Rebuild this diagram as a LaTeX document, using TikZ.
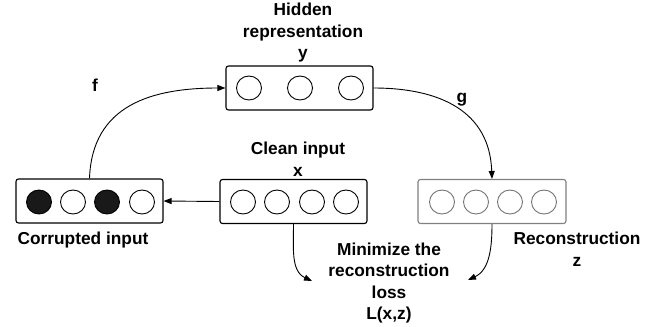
\documentclass[tikz,border=0pt]{standalone}
\usepackage{fontspec}
\setmainfont{Liberation Sans}
\usetikzlibrary{arrows.meta,shapes.geometric}
\begin{document}
\begin{tikzpicture}[x=1pt,y=-1pt,
  layerbox/.style={draw, line width=1.1pt, rounded corners=2.5pt, minimum width=147pt, minimum height=44pt, inner sep=0pt},
  unit/.style={draw, ellipse, line width=0.9pt, minimum width=25pt, minimum height=24pt, inner sep=0pt},
  lbl/.style={font=\fontsize{17.3}{21.5}\selectfont\bfseries, align=center, inner sep=0pt},
  conn/.style={line width=0.9pt, -{Triangle[length=8pt,width=6pt]}}
]
\useasboundingbox (0,0) rectangle (665,327);
% boxes
\node[layerbox] (cor) at (89.5,201) {};
\node[layerbox] (hid) at (299.5,88) {};
\node[layerbox] (cln) at (293.5,201.5) {};
\node[layerbox, draw=black!50, minimum width=148pt] (rec) at (492,201.5) {};
% units
\node[unit, fill=black!90] (c1) at (39,202) {};
\node[unit] (c2) at (73,202) {};
\node[unit, fill=black!90] (c3) at (107,202) {};
\node[unit] (c4) at (142,202) {};
\node[unit] (h1) at (249,88) {};
\node[unit] (h2) at (300,88) {};
\node[unit] (h3) at (351,88) {};
\node[unit] (x1) at (243,202) {};
\node[unit] (x2) at (277,202) {};
\node[unit] (x3) at (312,202) {};
\node[unit] (x4) at (346,202) {};
\node[unit, draw=black!55] (z1) at (442,202) {};
\node[unit, draw=black!55] (z2) at (476,202) {};
\node[unit, draw=black!55] (z3) at (510,202) {};
\node[unit, draw=black!55] (z4) at (544,202) {};
% labels
\node[lbl] (thid) at (303,33) {Hidden\\representation\\y};
\node[lbl] (tcln) at (298,159) {Clean input\\x};
\node[lbl] (tcor) at (83,240) {Corrupted input};
\node[lbl] (trec) at (577,249) {Reconstruction\\z};
\node[lbl] (tloss) at (389,283) {Minimize the\\reconstruction\\loss\\L(x,z)};
\node[lbl] (tf) at (95,85) {f};
\node[lbl] (tg) at (462,100) {g};
\coordinate (lossL) at (312,281);
\coordinate (lossR) at (468,280);
% connectors
\draw[conn] (cor.north) to[out=88,in=180,looseness=1.15] (hid.west);
\draw[conn] (hid.east) to[out=0,in=92,looseness=1.15] (rec.north);
\draw[conn] (cln.west) -- (cor.east);
\draw[conn] (cln.south) to[out=-90,in=155] (lossL);
\draw[conn] (rec.south) to[out=-90,in=25] (lossR);
\end{tikzpicture}
\end{document}
